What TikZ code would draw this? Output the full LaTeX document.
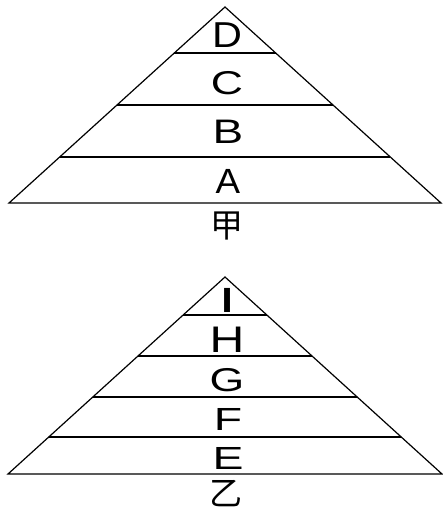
\documentclass[tikz,border=0pt]{standalone}
\usepackage{fontspec}
\setmainfont{Liberation Sans}
\newfontfamily\cjk{Noto Sans CJK SC}
\newcommand\widelab[3]{{\fontsize{#1}{#1}\selectfont\scalebox{#2}[1]{#3}}}
\begin{document}
\begin{tikzpicture}[x=1pt,y=-1pt,
  edge/.style={line width=1.2pt,line join=miter},
  lab/.style={anchor=base,inner sep=0pt},
  cjklab/.style={inner sep=0pt,font=\cjk\fontsize{33}{34}\selectfont}]
\useasboundingbox (0,0) rectangle (443,510);
% top pyramid
\coordinate (ta) at (225,7);
\coordinate (tl) at (9,203);
\coordinate (tr) at (441,203);
\draw[edge] (ta) -- (tl) -- (tr) -- cycle;
\draw[edge] (174.3,53) -- (275.7,53);
\draw[edge] (117,105) -- (333,105);
\draw[edge] (59.7,157) -- (390.3,157);
\node[lab] (D) at (227,48) {\widelab{36}{1.15}{D}};
\node[lab] (C) at (227,95) {\widelab{33}{1.35}{C}};
\node[lab] (B) at (228,144) {\widelab{34}{1.35}{B}};
\node[lab] (A) at (228,194) {\widelab{35}{1.05}{A}};
\node[cjklab] (jia) at (227,226) {甲};
% bottom pyramid
\coordinate (ba) at (225,277);
\coordinate (bl) at (8,474);
\coordinate (br) at (442,474);
\draw[edge] (ba) -- (bl) -- (br) -- cycle;
\draw[edge] (183.1,315) -- (266.9,315);
\draw[edge] (138,356) -- (312,356);
\draw[edge] (92.8,397) -- (357.2,397);
\draw[edge] (48.7,437) -- (401.3,437);
\node[lab] (I) at (227,312) {\widelab{35}{1.8}{I}};
\node[lab] (H) at (227,352) {\widelab{37}{1.3}{H}};
\node[lab] (G) at (227,391) {\widelab{33}{1.35}{G}};
\node[lab] (F) at (228,430) {\widelab{32}{1.45}{F}};
\node[lab] (E) at (228,469) {\widelab{32}{1.45}{E}};
\node[cjklab] (yi) at (226,494) {乙};
\end{tikzpicture}
\end{document}
